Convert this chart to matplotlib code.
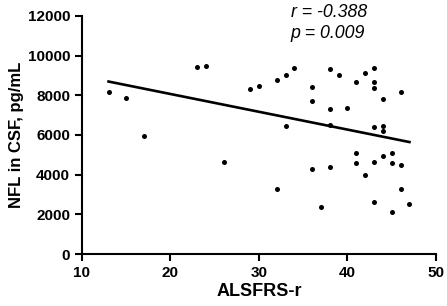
import matplotlib
matplotlib.use("Agg")
import matplotlib.pyplot as plt
import numpy as np

plt.rcParams['font.family'] = ['Liberation Sans', 'DejaVu Sans']

alsfrs = [13, 15, 17, 23, 24, 26, 29, 30, 32, 32, 33, 33, 34, 36, 36, 36, 37,
          38, 38, 38, 38, 39, 40, 41, 41, 41, 42, 42, 43, 43, 43, 43, 43, 43,
          44, 44, 44, 44, 45, 45, 45, 46, 46, 46, 47]
nfl = [8150, 7870, 5960, 9430, 9500, 4650, 8300, 8490, 8790, 3290, 9010, 6440,
       9380, 8440, 7710, 4300, 2390, 9330, 7290, 6500, 4370, 9010, 7360, 8670,
       5090, 4570, 9140, 3970, 9400, 8690, 8350, 6400, 4640, 2640, 7800, 6450,
       6190, 4960, 5110, 4570, 2100, 8150, 4500, 3260, 2540]
r_text = "r = -0.388"
p_text = "p = 0.009"
xticks = [10, 20, 30, 40, 50]
yticks = [0, 2000, 4000, 6000, 8000, 10000, 12000]

fig = plt.figure(figsize=(4.47, 3.06), dpi=100)
ax = fig.add_axes([0.1834, 0.1699, 0.792, 0.778])

x = np.array(alsfrs, dtype=float)
y = np.array(nfl, dtype=float)
ax.scatter(x, y, s=13, color='black', zorder=3, linewidths=0)
slope, intercept = np.polyfit(x, y, 1)
xl = np.array([x.min(), x.max()])
ax.plot(xl, slope * xl + intercept, color='black', lw=1.9)

ax.set_xlim(10, 50)
ax.set_ylim(0, 12000)
ax.set_xticks(xticks)
ax.set_yticks(yticks)
for s in ['top', 'right']:
    ax.spines[s].set_visible(False)
for s in ['left', 'bottom']:
    ax.spines[s].set_linewidth(1.5)
ax.tick_params(width=1.5, length=5, labelsize=11)
for lab in ax.get_xticklabels() + ax.get_yticklabels():
    lab.set_fontweight('bold')
ax.set_xlabel('ALSFRS-r', fontsize=13, fontweight='bold', labelpad=2)
ax.set_ylabel('NFL in CSF, pg/mL', fontsize=12, fontweight='bold', labelpad=3)

ax.text(0.5895, 0.994, r_text, transform=ax.transAxes, fontsize=12.8,
        style='italic', va='baseline', ha='left')
ax.text(0.5895, 0.906, p_text, transform=ax.transAxes, fontsize=12.8,
        style='italic', va='baseline', ha='left')

fig.savefig('out.png', dpi=100)
